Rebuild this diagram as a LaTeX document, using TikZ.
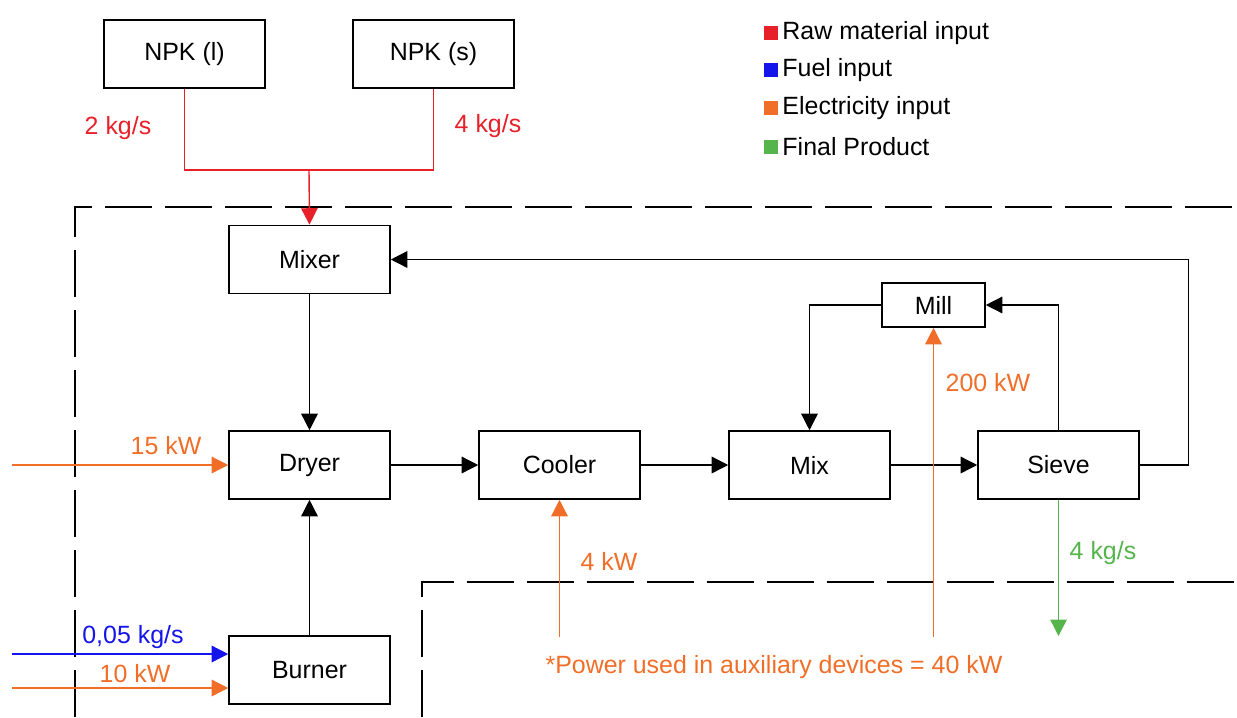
\documentclass[tikz,border=0pt]{standalone}
\usepackage{fontspec}
\setmainfont{Liberation Sans}
\usetikzlibrary{arrows.meta}
\definecolor{rawred}{RGB}{232,32,42}
\definecolor{fuelblue}{RGB}{20,20,235}
\definecolor{elecorange}{RGB}{240,110,40}
\definecolor{prodgreen}{RGB}{85,180,75}

\begin{document}
\begin{tikzpicture}[x=0.02cm, y=-0.02cm,
  font=\fontsize{14.2}{17}\selectfont,
  box/.style={rectangle, draw, line width=0.9pt, minimum width=3.22cm,
    minimum height=1.36cm, align=center},
  small/.style={box, minimum width=2.06cm, minimum height=0.88cm},
  arr/.style={-{Triangle[length=0.33cm, width=0.33cm]}, line width=0.8pt},
  flow/.style={line width=0.8pt},
  boundary/.style={line width=0.9pt, dash pattern=on 0.95cm off 0.25cm},
  key/.style={rectangle, minimum size=0.29cm, inner sep=0pt}
]
\useasboundingbox (0,0) rectangle (1237,717);

% process units
\node[box] (npkl)   at (184.5,54)  {NPK (l)};
\node[box] (npks)   at (433.5,54)  {NPK (s)};
\node[box] (mixer)  at (309.5,259.5) {Mixer};
\node[box] (dryer)  at (309.5,465) {Dryer};
\node[box] (cooler) at (559.5,465) {Cooler};
\node[box] (mix)    at (809.5,465) {Mix};
\node[box] (sieve)  at (1058.5,465) {Sieve};
\node[small] (mill) at (933.5,305) {Mill};
\node[box] (burner) at (309.5,670) {Burner};

% system boundaries
\draw[boundary] (75,717) -- (75,207) -- (1237,207);
\draw[boundary] (422,717) -- (422,582) -- (1237,582);

% raw material
\coordinate (join) at (309,170);
\draw[flow, rawred] (npkl.south) |- (join) -| (npks.south);
\draw[arr, rawred] (join) -- (mixer.north);
\node[rawred] (liquid) at (118,128) {2 kg/s};
\node[rawred] (solid)  at (488,126) {4 kg/s};

% main line
\draw[arr] (mixer) -- (dryer);
\draw[arr] (burner) -- (dryer);
\draw[arr] (dryer) -- (cooler);
\draw[arr] (cooler) -- (mix);
\draw[arr] (mix) -- (sieve);
\draw[arr] (sieve.east) -- ++(49,0) |- (mixer.east);
\draw[arr] (sieve.north) |- (mill.east);
\draw[arr] (mill.west) -| (mix.north);

% electricity
\coordinate (e1) at (12,465);
\coordinate (e2) at (12,688);
\coordinate (e3) at (559.5,637);
\coordinate (e4) at (933.5,637);
\draw[arr, elecorange] (e1) -- (dryer.west);
\node[elecorange] (dryerkw) at (166,446) {15 kW};
\draw[arr, elecorange] (e2) -- (e2 -| burner.west);
\node[elecorange] (burnerkw) at (135,674) {10 kW};
\draw[arr, elecorange] (e3) -- (cooler.south);
\node[elecorange] (coolerkw) at (609,561) {4 kW};
\draw[arr, elecorange] (e4) -- (mill.south);
\node[elecorange] (millkw) at (988,383) {200 kW};
\node[elecorange] (aux) at (774,667) {*Power used in auxiliary devices = 40 kW};

% fuel
\coordinate (f1) at (12,654);
\draw[arr, fuelblue] (f1) -- (f1 -| burner.west);
\node[fuelblue] (fuel) at (133,637) {0,05 kg/s};

% product
\coordinate (p1) at (1058.5,636);
\draw[arr, prodgreen] (sieve.south) -- (p1);
\node[prodgreen] (product) at (1103,553) {4 kg/s};

% legend
\node[key, fill=rawred]     (k1) at (771,33)  {};
\node[key, fill=fuelblue]   (k2) at (771,70)  {};
\node[key, fill=elecorange] (k3) at (771,108) {};
\node[key, fill=prodgreen]  (k4) at (771,147) {};
\node[right, inner sep=2pt] (t1) at (k1.east) {Raw material input};
\node[right, inner sep=2pt] (t2) at (k2.east) {Fuel input};
\node[right, inner sep=2pt] (t3) at (k3.east) {Electricity input};
\node[right, inner sep=2pt] (t4) at (k4.east) {Final Product};
\end{tikzpicture}
\end{document}
